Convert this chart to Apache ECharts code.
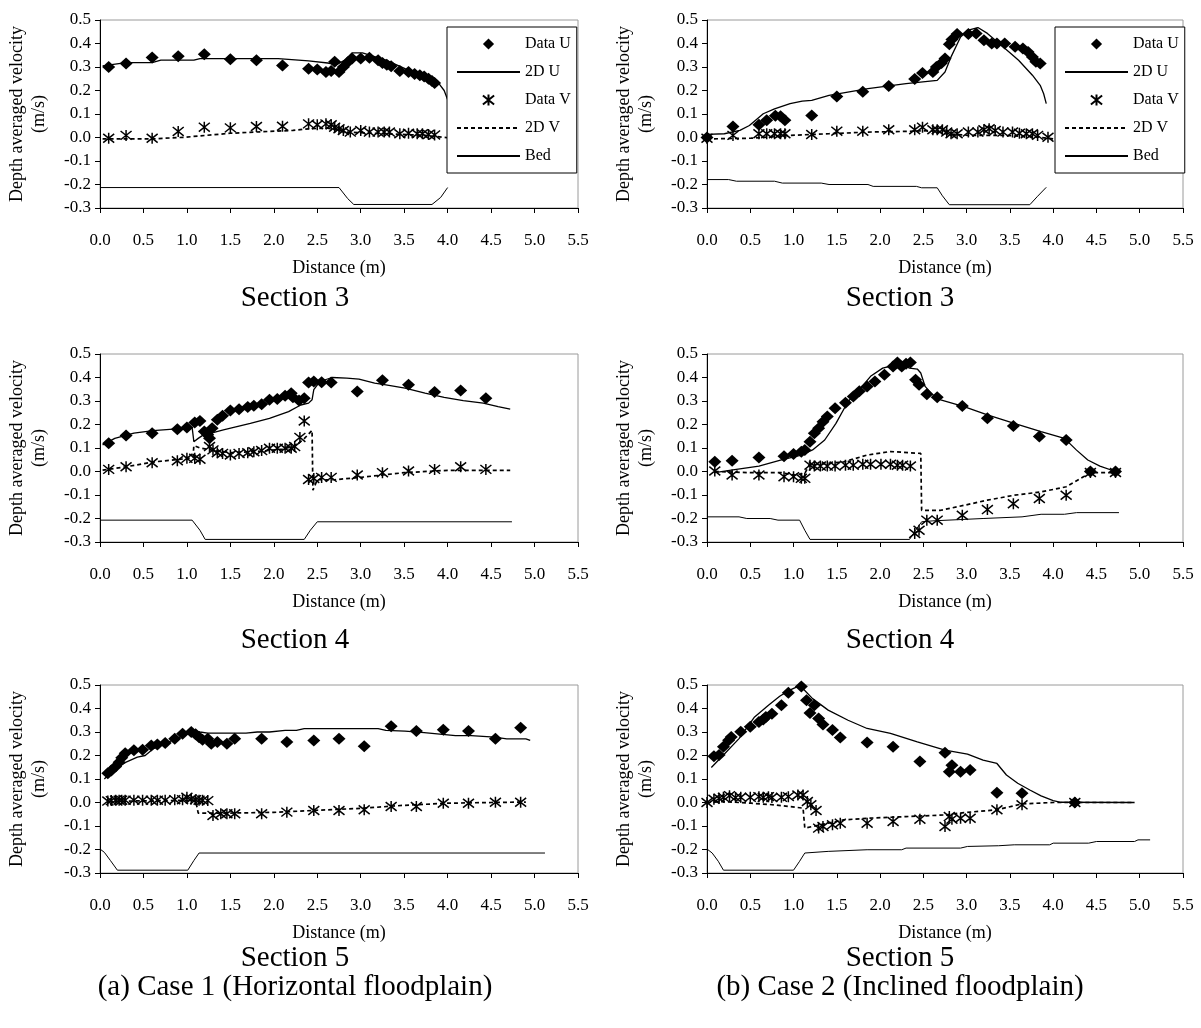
<!DOCTYPE html>
<html>
<head>
<meta charset="utf-8">
<script src="https://cdn.jsdelivr.net/npm/echarts@6/dist/echarts.min.js"></script>
<style>
  html, body { margin: 0; padding: 0; background: #fff; }
  #chart { width: 1201px; height: 1028px; }
</style>
</head>
<body>
<div id="chart"></div>
<script>
// ---- Case 1, Section 3 ----
const c1s3DataU = [[0.1,0.30],[0.3,0.315],[0.6,0.34],[0.9,0.346],[1.2,0.354],[1.5,0.333],[1.8,0.329],[2.1,0.306],[2.4,0.293],[2.5,0.289],[2.6,0.279],[2.66,0.283],[2.7,0.322],[2.75,0.279],[2.8,0.30],[2.85,0.32],[2.9,0.336],[3.0,0.336],[3.1,0.339],[3.2,0.329],[3.25,0.317],[3.3,0.31],[3.35,0.303],[3.45,0.283],[3.55,0.279],[3.62,0.27],[3.68,0.265],[3.73,0.26],[3.78,0.25],[3.82,0.24],[3.85,0.232]];
const c1s3ModelU = [[0.03,0.305],[0.3,0.319],[0.6,0.319],[0.7,0.329],[1.08,0.329],[1.15,0.336],[2.05,0.336],[2.4,0.326],[2.62,0.317],[2.72,0.31],[2.82,0.329],[2.9,0.36],[3.02,0.36],[3.29,0.329],[3.51,0.293],[3.74,0.258],[3.9,0.229],[3.96,0.2],[4.01,0.151]];
const c1s3DataV = [[0.1,-0.003],[0.3,0.009],[0.6,-0.003],[0.9,0.026],[1.2,0.044],[1.5,0.041],[1.8,0.047],[2.1,0.048],[2.4,0.058],[2.5,0.054],[2.6,0.058],[2.66,0.054],[2.7,0.044],[2.75,0.037],[2.8,0.03],[2.88,0.023],[3.0,0.03],[3.1,0.023],[3.2,0.023],[3.27,0.023],[3.33,0.023],[3.45,0.016],[3.55,0.018],[3.65,0.016],[3.71,0.016],[3.78,0.013],[3.85,0.011]];
const c1s3ModelV = [[0.03,-0.006],[0.6,-0.006],[0.97,0.001],[1.5,0.018],[1.95,0.026],[2.22,0.03],[2.4,0.037],[2.62,0.04],[2.84,0.023],[3.29,0.016],[3.74,0.009],[4.0,-0.001]];
const c1s3Bed = [[0,-0.213],[2.75,-0.213],[2.85,-0.26],[2.92,-0.285],[3.82,-0.285],[3.92,-0.255],[4.0,-0.213]];

// ---- Case 2, Section 3 ----
const c2s3DataU = [[0,0],[0.3,0.047],[0.6,0.054],[0.69,0.073],[0.79,0.093],[0.85,0.09],[0.9,0.073],[1.21,0.094],[1.5,0.175],[1.8,0.195],[2.1,0.219],[2.4,0.249],[2.49,0.275],[2.61,0.279],[2.65,0.3],[2.71,0.317],[2.75,0.336],[2.8,0.397],[2.83,0.417],[2.89,0.44],[3.02,0.44],[3.11,0.443],[3.2,0.414],[3.29,0.4],[3.35,0.4],[3.44,0.4],[3.56,0.386],[3.65,0.379],[3.71,0.364],[3.76,0.343],[3.8,0.322],[3.85,0.315]];
const c2s3ModelU = [[0,0.013],[0.2,0.016],[0.38,0.03],[0.49,0.051],[0.65,0.101],[0.78,0.122],[0.96,0.144],[1.1,0.155],[1.21,0.158],[1.41,0.179],[1.86,0.208],[2.3,0.229],[2.66,0.243],[2.75,0.279],[2.82,0.343],[2.93,0.428],[3.02,0.457],[3.13,0.468],[3.24,0.443],[3.42,0.386],[3.6,0.329],[3.76,0.265],[3.85,0.222],[3.89,0.186],[3.92,0.144]];
const c2s3DataV = [[0,-0.003],[0.3,0.009],[0.6,0.016],[0.69,0.016],[0.78,0.016],[0.85,0.016],[0.9,0.016],[1.21,0.013],[1.5,0.027],[1.8,0.027],[2.1,0.033],[2.4,0.033],[2.49,0.044],[2.61,0.033],[2.66,0.033],[2.72,0.033],[2.77,0.023],[2.82,0.016],[2.89,0.016],[3.02,0.023],[3.13,0.023],[3.2,0.033],[3.26,0.037],[3.33,0.03],[3.42,0.023],[3.53,0.023],[3.61,0.018],[3.69,0.016],[3.76,0.016],[3.82,0.009],[3.94,0.001]];
const c2s3ModelV = [[0,-0.006],[0.51,-0.003],[0.96,0.009],[1.41,0.016],[1.86,0.023],[2.3,0.026],[2.62,0.03],[2.75,0.016],[3.02,0.009],[3.42,0.009],[3.78,0.004],[4.0,-0.006]];
const c2s3Bed = [[0,-0.179],[0.25,-0.179],[0.34,-0.186],[0.78,-0.186],[0.87,-0.194],[1.32,-0.194],[1.41,-0.2],[1.86,-0.2],[1.92,-0.208],[2.42,-0.208],[2.48,-0.214],[2.66,-0.214],[2.72,-0.248],[2.8,-0.286],[3.73,-0.286],[3.82,-0.25],[3.92,-0.212]];

// ---- Case 1, Section 4 ----
const c1s4DataU = [[0.1,0.12],[0.3,0.153],[0.6,0.163],[0.89,0.18],[1.0,0.187],[1.09,0.208],[1.15,0.215],[1.2,0.17],[1.24,0.156],[1.26,0.142],[1.29,0.184],[1.35,0.22],[1.41,0.237],[1.5,0.26],[1.6,0.265],[1.7,0.274],[1.77,0.28],[1.86,0.286],[1.95,0.305],[2.04,0.309],[2.13,0.322],[2.2,0.333],[2.22,0.316],[2.29,0.302],[2.35,0.312],[2.4,0.379],[2.46,0.383],[2.55,0.38],[2.66,0.379],[2.96,0.34],[3.25,0.388],[3.55,0.369],[3.85,0.338],[4.15,0.345],[4.44,0.312]];
const c1s4ModelU = [[0.03,0.113],[0.17,0.141],[0.39,0.163],[0.61,0.174],[0.88,0.181],[1.06,0.188],[1.08,0.127],[1.13,0.141],[1.19,0.156],[1.28,0.163],[1.42,0.177],[1.73,0.205],[1.95,0.226],[2.17,0.255],[2.31,0.283],[2.4,0.291],[2.44,0.305],[2.46,0.348],[2.53,0.383],[2.67,0.4],[2.84,0.397],[2.98,0.393],[3.16,0.376],[3.29,0.369],[3.51,0.355],[3.74,0.334],[3.96,0.315],[4.18,0.302],[4.41,0.291],[4.58,0.276],[4.72,0.265]];
const c1s4DataV = [[0.1,0.009],[0.3,0.02],[0.6,0.037],[0.89,0.046],[1.0,0.056],[1.09,0.056],[1.15,0.052],[1.26,0.106],[1.3,0.092],[1.35,0.08],[1.41,0.077],[1.5,0.07],[1.6,0.077],[1.7,0.08],[1.77,0.084],[1.86,0.089],[1.95,0.099],[2.04,0.099],[2.13,0.099],[2.2,0.099],[2.24,0.106],[2.3,0.145],[2.35,0.215],[2.4,-0.034],[2.46,-0.03],[2.55,-0.025],[2.66,-0.025],[2.96,-0.015],[3.25,-0.005],[3.55,0.002],[3.85,0.009],[4.15,0.02],[4.44,0.009]];
const c1s4ModelV = [[0.03,0.006],[0.3,0.02],[0.6,0.04],[1.0,0.055],[1.07,0.06],[1.08,0.11],[1.15,0.1],[1.3,0.09],[1.5,0.08],[1.8,0.085],[2.1,0.095],[2.25,0.11],[2.35,0.14],[2.44,0.175],[2.45,-0.08],[2.5,-0.035],[2.7,-0.035],[3.0,-0.025],[3.5,-0.005],[4.0,0.005],[4.72,0.005]];
const c1s4Bed = [[0,-0.207],[1.06,-0.207],[1.15,-0.25],[1.21,-0.289],[2.35,-0.289],[2.42,-0.25],[2.5,-0.214],[4.74,-0.214]];

// ---- Case 2, Section 4 ----
const c2s4DataU = [[0.09,0.042],[0.29,0.046],[0.6,0.06],[0.89,0.065],[1.0,0.074],[1.09,0.084],[1.13,0.091],[1.19,0.127],[1.24,0.163],[1.29,0.184],[1.34,0.212],[1.39,0.234],[1.48,0.269],[1.6,0.293],[1.69,0.319],[1.76,0.341],[1.85,0.362],[1.94,0.383],[2.05,0.412],[2.15,0.447],[2.2,0.464],[2.25,0.447],[2.3,0.458],[2.35,0.464],[2.41,0.39],[2.45,0.369],[2.54,0.329],[2.66,0.316],[2.95,0.279],[3.24,0.227],[3.54,0.194],[3.84,0.149],[4.15,0.134],[4.43,0],[4.72,0]];
const c2s4ModelU = [[0.09,-0.005],[0.28,0.006],[0.6,0.023],[0.86,0.049],[1.09,0.07],[1.22,0.092],[1.36,0.134],[1.49,0.205],[1.63,0.298],[1.76,0.348],[1.89,0.405],[2.03,0.44],[2.14,0.45],[2.23,0.46],[2.34,0.44],[2.43,0.436],[2.47,0.419],[2.52,0.362],[2.61,0.326],[2.7,0.305],[2.97,0.276],[3.24,0.241],[3.55,0.205],[3.86,0.17],[4.13,0.141],[4.27,0.091],[4.4,0.049],[4.54,0.023],[4.72,0]];
const c2s4DataV = [[0.09,0.002],[0.29,-0.015],[0.6,-0.015],[0.89,-0.022],[1.0,-0.022],[1.09,-0.029],[1.13,-0.029],[1.19,0.027],[1.24,0.023],[1.31,0.023],[1.39,0.023],[1.48,0.023],[1.6,0.027],[1.69,0.027],[1.8,0.031],[1.89,0.031],[2.01,0.031],[2.12,0.031],[2.2,0.027],[2.26,0.027],[2.35,0.023],[2.4,-0.264],[2.45,-0.25],[2.54,-0.207],[2.66,-0.207],[2.95,-0.186],[3.24,-0.162],[3.54,-0.137],[3.84,-0.115],[4.15,-0.101],[4.43,-0.004],[4.72,-0.004]];
const c2s4ModelV = [[0.09,0],[0.5,-0.005],[0.86,-0.005],[1.0,-0.015],[1.13,-0.008],[1.18,0.027],[1.58,0.041],[1.85,0.07],[2.12,0.085],[2.47,0.077],[2.48,-0.165],[2.7,-0.165],[2.97,-0.144],[3.24,-0.122],[3.55,-0.101],[3.86,-0.087],[4.15,-0.065],[4.35,-0.022],[4.45,-0.005],[4.72,-0.005]];
const c2s4Bed = [[0,-0.193],[0.37,-0.193],[0.46,-0.2],[0.73,-0.2],[0.82,-0.207],[1.07,-0.207],[1.13,-0.25],[1.19,-0.289],[2.34,-0.289],[2.41,-0.25],[2.48,-0.214],[2.61,-0.21],[3.19,-0.2],[3.64,-0.193],[3.86,-0.182],[4.13,-0.182],[4.27,-0.175],[4.76,-0.175]];

// ---- Case 1, Section 5 ----
const c1s5DataU = [[0.09,0.125],[0.13,0.136],[0.18,0.153],[0.22,0.171],[0.25,0.19],[0.29,0.21],[0.39,0.222],[0.49,0.224],[0.59,0.243],[0.66,0.247],[0.75,0.253],[0.86,0.271],[0.95,0.293],[1.05,0.3],[1.1,0.29],[1.14,0.278],[1.18,0.267],[1.24,0.271],[1.28,0.25],[1.35,0.257],[1.46,0.25],[1.55,0.271],[1.86,0.271],[2.15,0.257],[2.46,0.264],[2.75,0.271],[3.04,0.239],[3.35,0.324],[3.64,0.304],[3.95,0.31],[4.24,0.304],[4.55,0.271],[4.84,0.318]];
const c1s5ModelU = [[0.05,0.1],[0.17,0.143],[0.3,0.172],[0.43,0.193],[0.52,0.2],[0.61,0.228],[0.83,0.264],[1.01,0.293],[1.06,0.307],[1.15,0.3],[1.24,0.295],[1.68,0.295],[1.81,0.3],[1.95,0.3],[2.13,0.307],[2.26,0.307],[2.35,0.314],[3.2,0.314],[3.29,0.307],[3.51,0.304],[3.73,0.297],[4.09,0.285],[4.27,0.285],[4.54,0.278],[4.68,0.271],[4.9,0.271],[4.95,0.264]];
const c1s5DataV = [[0.09,0.006],[0.13,0.008],[0.18,0.01],[0.22,0.01],[0.25,0.01],[0.29,0.01],[0.39,0.01],[0.49,0.01],[0.59,0.01],[0.66,0.01],[0.75,0.01],[0.86,0.012],[0.95,0.012],[1.0,0.022],[1.05,0.015],[1.1,0.012],[1.14,0.01],[1.18,0.01],[1.24,0.008],[1.3,-0.055],[1.39,-0.048],[1.46,-0.048],[1.55,-0.048],[1.86,-0.048],[2.15,-0.041],[2.46,-0.034],[2.75,-0.034],[3.04,-0.031],[3.35,-0.017],[3.64,-0.017],[3.95,-0.003],[4.24,-0.003],[4.55,0.001],[4.84,0.001]];
const c1s5ModelV = [[0.09,0.005],[1.1,0.01],[1.13,-0.045],[1.5,-0.045],[2.0,-0.042],[2.5,-0.033],[3.0,-0.025],[3.5,-0.012],[4.0,-0.003],[4.5,0.0],[4.9,0.002]];
const c1s5Bed = [[0,-0.198],[0.05,-0.212],[0.12,-0.247],[0.2,-0.288],[1.01,-0.288],[1.08,-0.247],[1.14,-0.215],[5.12,-0.215]];

// ---- Case 2, Section 5 ----
const c2s5DataU = [[0.08,0.197],[0.14,0.202],[0.19,0.237],[0.25,0.265],[0.28,0.279],[0.39,0.301],[0.5,0.322],[0.6,0.343],[0.65,0.353],[0.68,0.364],[0.75,0.378],[0.86,0.414],[0.94,0.467],[1.09,0.494],[1.15,0.435],[1.19,0.381],[1.24,0.414],[1.29,0.357],[1.34,0.332],[1.45,0.308],[1.54,0.277],[1.85,0.255],[2.15,0.237],[2.46,0.174],[2.75,0.212],[2.8,0.131],[2.83,0.159],[2.93,0.131],[3.04,0.138],[3.35,0.042],[3.64,0.039],[4.25,0]];
const c2s5ModelU = [[0.05,0.149],[0.19,0.202],[0.37,0.272],[0.55,0.364],[0.71,0.414],[0.84,0.452],[0.95,0.477],[1.04,0.492],[1.11,0.484],[1.22,0.442],[1.4,0.393],[1.63,0.35],[1.85,0.315],[2.12,0.294],[2.43,0.258],[2.75,0.223],[3.01,0.206],[3.19,0.18],[3.35,0.166],[3.46,0.117],[3.59,0.082],[3.73,0.053],[3.86,0.028],[4.0,0.008],[4.09,0.001],[4.94,0]];
const c2s5DataV = [[0,0],[0.08,0.014],[0.14,0.018],[0.19,0.022],[0.26,0.029],[0.33,0.021],[0.39,0.022],[0.5,0.022],[0.6,0.025],[0.65,0.022],[0.71,0.025],[0.75,0.021],[0.86,0.022],[0.94,0.025],[1.05,0.032],[1.11,0.032],[1.16,0.004],[1.2,-0.01],[1.26,-0.034],[1.29,-0.109],[1.34,-0.102],[1.45,-0.095],[1.54,-0.088],[1.85,-0.088],[2.15,-0.081],[2.46,-0.071],[2.75,-0.102],[2.8,-0.06],[2.83,-0.071],[2.93,-0.067],[3.04,-0.067],[3.35,-0.031],[3.64,-0.01],[4.25,0]];
const c2s5ModelV = [[0,0],[0.19,0.004],[0.51,-0.003],[0.78,-0.01],[0.95,-0.017],[1.11,-0.024],[1.13,-0.109],[1.31,-0.095],[1.58,-0.074],[1.85,-0.067],[2.3,-0.06],[2.75,-0.053],[2.97,-0.043],[3.35,-0.031],[3.64,-0.006],[4.0,0],[4.94,0]];
const c2s5Bed = [[0,-0.198],[0.06,-0.215],[0.13,-0.25],[0.19,-0.288],[1.0,-0.288],[1.07,-0.25],[1.13,-0.215],[1.4,-0.208],[1.85,-0.201],[2.25,-0.201],[2.3,-0.194],[2.93,-0.194],[3.01,-0.187],[3.37,-0.184],[3.55,-0.18],[3.96,-0.18],[4.0,-0.173],[4.41,-0.173],[4.5,-0.166],[4.94,-0.166],[4.98,-0.159],[5.12,-0.159]];

const sectionLabels = ["Section 3", "Section 3", "Section 4", "Section 4", "Section 5", "Section 5"];
const caseLabels = ["(a) Case 1 (Horizontal floodplain)", "(b) Case 2 (Inclined floodplain)"];
const seriesNames = ["Data U", "2D U", "Data V", "2D V", "Bed"];

const panels = [
  [c1s3DataU, c1s3ModelU, c1s3DataV, c1s3ModelV, c1s3Bed],
  [c2s3DataU, c2s3ModelU, c2s3DataV, c2s3ModelV, c2s3Bed],
  [c1s4DataU, c1s4ModelU, c1s4DataV, c1s4ModelV, c1s4Bed],
  [c2s4DataU, c2s4ModelU, c2s4DataV, c2s4ModelV, c2s4Bed],
  [c1s5DataU, c1s5ModelU, c1s5DataV, c1s5ModelV, c1s5Bed],
  [c2s5DataU, c2s5ModelU, c2s5DataV, c2s5ModelV, c2s5Bed],
];

// layout
const FONT = "Liberation Serif";
const colLeft = [100, 707];
const colWidth = [478, 476];
const rowTop = [20, 354, 685];
const plotH = 188;
const textX = [295, 900];
const sectionY = [298, 640, 958];
const ASTERISK = "path://M1,1L9,9M9,1L1,9M5,0L5,10";
const NO_MARK = "path://M0,0L1,1"; // zero-area path: hides the legend dot on plain lines

const chart = echarts.init(document.getElementById("chart"));
const fmt1 = v => (Math.round(v * 10) / 10).toFixed(1);

const grids = [], xAxes = [], yAxes = [], series = [];
panels.forEach((p, i) => {
  const col = i % 2, row = Math.floor(i / 2);
  grids.push({
    left: colLeft[col], top: rowTop[row], width: colWidth[col], height: plotH,
    show: true, borderColor: "#9a9a9a", borderWidth: 1, backgroundColor: "transparent",
    outerBoundsMode: "none",
  });
  xAxes.push({
    type: "value", gridIndex: i, min: 0, max: 5.5, interval: 0.5,
    name: "Distance (m)", nameLocation: "middle", nameGap: 51,
    nameTextStyle: { fontFamily: FONT, fontSize: 18, color: "#000" },
    axisLine: { onZero: false, lineStyle: { color: "#000", width: 1 } },
    axisTick: { show: true, inside: false, length: 5, lineStyle: { color: "#000" } },
    axisLabel: { margin: 24, fontFamily: FONT, fontSize: 17, color: "#000", formatter: fmt1 },
    splitLine: { show: false },
  });
  yAxes.push({
    type: "value", gridIndex: i, min: -0.3, max: 0.5, interval: 0.1,
    name: "Depth averaged velocity\n(m/s)", nameLocation: "middle", nameGap: 50,
    nameTextStyle: { fontFamily: FONT, fontSize: 18, color: "#000", lineHeight: 22 },
    axisLine: { onZero: false, lineStyle: { color: "#000", width: 1 } },
    axisTick: { show: true, inside: false, length: 5, lineStyle: { color: "#000" } },
    axisLabel: { margin: 9, fontFamily: FONT, fontSize: 17, color: "#000", formatter: fmt1 },
    splitLine: { show: false },
  });
  const common = { type: "line", xAxisIndex: i, yAxisIndex: i, animation: false, silent: true };
  series.push({
    ...common, name: seriesNames[0], data: p[0], symbol: "diamond", symbolSize: [13, 12], showAllSymbol: true,
    itemStyle: { color: "#000", borderWidth: 0 }, lineStyle: { width: 0, opacity: 0 }, z: 5,
  });
  series.push({
    ...common, name: seriesNames[1], data: p[1], symbol: NO_MARK, showSymbol: false,
    itemStyle: { color: "#000", borderWidth: 0 }, lineStyle: { color: "#000", width: 1.3 }, z: 3,
  });
  series.push({
    ...common, name: seriesNames[2], data: p[2], symbol: ASTERISK, symbolSize: 11, showAllSymbol: true,
    itemStyle: { color: "#000", borderColor: "#000", borderWidth: 1.5 }, lineStyle: { width: 0, opacity: 0 }, z: 5,
  });
  series.push({
    ...common, name: seriesNames[3], data: p[3], symbol: NO_MARK, showSymbol: false,
    itemStyle: { color: "#000", borderWidth: 0 }, lineStyle: { color: "#000", width: 1.7, type: [4, 3] }, z: 3,
  });
  series.push({
    ...common, name: seriesNames[4], data: p[4], symbol: NO_MARK, showSymbol: false,
    itemStyle: { color: "#000", borderWidth: 0 }, lineStyle: { color: "#000", width: 1 }, z: 3,
  });
});

const legendBase = {
  orient: "vertical", top: 27,
  itemWidth: 63, itemHeight: 14, itemGap: 12,
  padding: [9, 6, 9, 9],
  backgroundColor: "#fff", borderColor: "#000", borderWidth: 1,
  textStyle: { fontFamily: FONT, fontSize: 16, color: "#000" },
  selectedMode: false, z: 10,
  data: seriesNames,
};

const graphics = [];
sectionLabels.forEach((t, i) => {
  graphics.push({
    type: "text", x: textX[i % 2], y: sectionY[Math.floor(i / 2)],
    style: { text: t, fontFamily: FONT, fontSize: 29, fill: "#000", textAlign: "center", textVerticalAlign: "middle" },
  });
});
caseLabels.forEach((t, i) => {
  graphics.push({
    type: "text", x: textX[i], y: 987,
    style: { text: t, fontFamily: FONT, fontSize: 29, fill: "#000", textAlign: "center", textVerticalAlign: "middle" },
  });
});

chart.setOption({
  backgroundColor: "#fff",
  animation: false,
  grid: grids,
  xAxis: xAxes,
  yAxis: yAxes,
  legend: [
    { ...legendBase, left: 447 },
    { ...legendBase, left: 1055 },
  ],
  graphic: graphics,
  series: series,
});
</script>
</body>
</html>
